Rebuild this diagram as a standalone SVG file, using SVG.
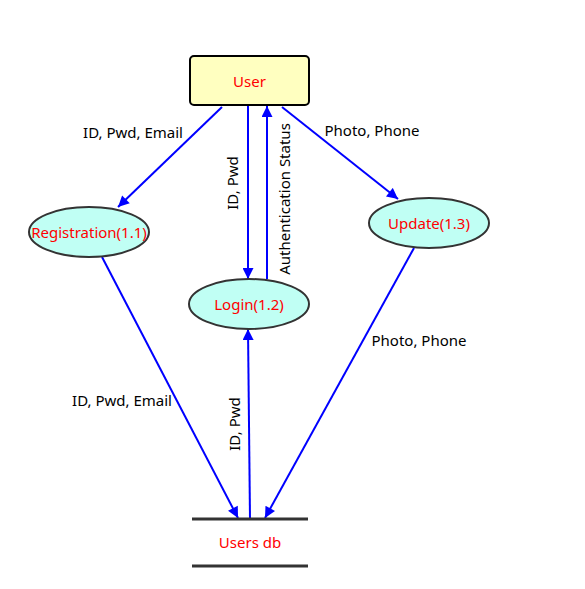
<svg xmlns="http://www.w3.org/2000/svg" width="585" height="589" viewBox="0 0 585 589">
<defs>
<marker id="ah" viewBox="0 0 10 10" refX="10" refY="5" markerWidth="6.5" markerHeight="5.5" orient="auto" markerUnits="strokeWidth">
<path d="M0,0 L10,5 L0,10 z" fill="#0000FF"/>
</marker>
<style>
.n{font-family:"Segoe UI","Noto Sans","Open Sans",sans-serif;font-size:15px;fill:#FF0000;text-anchor:middle;dominant-baseline:central}
.l{font-family:"Segoe UI","Noto Sans","Open Sans",sans-serif;font-size:15px;fill:#000;text-anchor:middle;dominant-baseline:central}
.e{fill:#C0FFF4;stroke:#333;stroke-width:2}
.c{stroke:#0000FF;stroke-width:2;fill:none;marker-end:url(#ah)}
.s{stroke:#333;stroke-width:3}
</style>
</defs>
<rect width="585" height="589" fill="#fff"/>
<g id="connectors">
<line class="c" x1="222" y1="107" x2="118" y2="207"/>
<line class="c" x1="248" y1="106" x2="248" y2="279"/>
<line class="c" x1="267" y1="279" x2="267" y2="106"/>
<line class="c" x1="282" y1="107" x2="398" y2="199"/>
<line class="c" x1="102" y1="257" x2="238" y2="518"/>
<line class="c" x1="250" y1="519" x2="248" y2="329"/>
<line class="c" x1="414" y1="248" x2="265" y2="518"/>
<text class="l" x="133" y="132">ID, Pwd, Email</text>
<text class="l" transform="translate(232,183) rotate(-90)">ID, Pwd</text>
<text class="l" transform="translate(284,199) rotate(-90)">Authentication Status</text>
<text class="l" x="372" y="130">Photo, Phone</text>
<text class="l" x="122" y="400">ID, Pwd, Email</text>
<text class="l" transform="translate(234,424) rotate(-90)">ID, Pwd</text>
<text class="l" x="419" y="340">Photo, Phone</text>
</g>
<g id="user">
<rect x="190" y="56" width="119" height="49" rx="4" fill="#FFFFC0" stroke="#000" stroke-width="2"/>
<text class="n" x="249.5" y="80.5">User</text>
</g>
<g id="registration">
<ellipse class="e" cx="89" cy="232" rx="60" ry="25"/>
<text class="n" x="89" y="232">Registration(1.1)</text>
</g>
<g id="login">
<ellipse class="e" cx="249" cy="304" rx="60" ry="25"/>
<text class="n" x="249" y="304">Login(1.2)</text>
</g>
<g id="update">
<ellipse class="e" cx="429" cy="223" rx="60" ry="25"/>
<text class="n" x="429" y="223">Update(1.3)</text>
</g>
<g id="usersdb">
<line class="s" x1="192" y1="519" x2="308" y2="519"/>
<line class="s" x1="192" y1="566" x2="308" y2="566"/>
<text class="n" x="250" y="542">Users db</text>
</g>
</svg>
